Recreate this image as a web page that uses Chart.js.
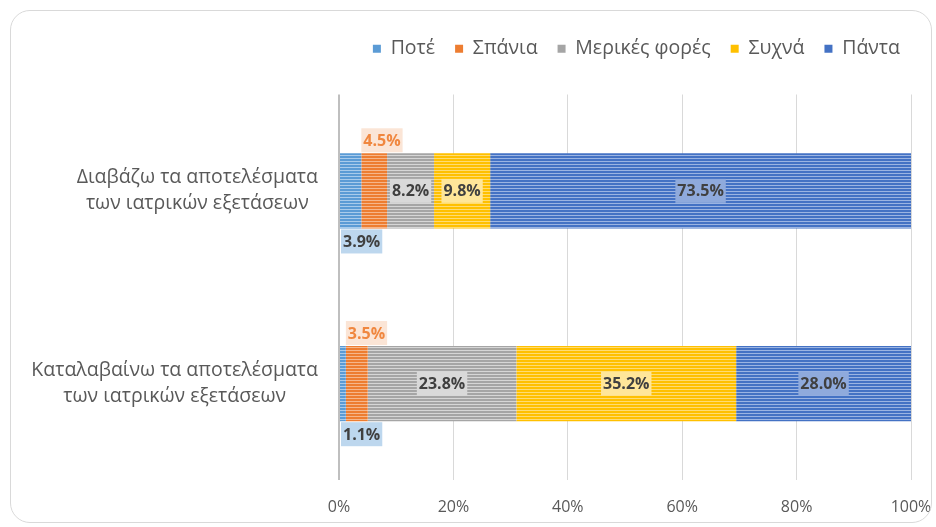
<!DOCTYPE html>
<html>
<head>
<meta charset="utf-8">
<script src="https://cdn.jsdelivr.net/npm/chart.js@4/dist/chart.umd.min.js"></script>
<style>
html, body { margin: 0; padding: 0; background: #fff; }
#wrap { position: relative; width: 936px; height: 527px; }
#frame { position: absolute; left: 10px; top: 10px; width: 920px; height: 511px; border: 1.5px solid #d9d9d9; border-radius: 20px; pointer-events: none; }
canvas { position: absolute; left: 0; top: 0; }
</style>
</head>
<body>
<div id="wrap"><canvas id="chart" width="936" height="527"></canvas><div id="frame"></div></div>
<script>
// categories (two-line labels) and series values in %, as printed on the bars
const categories = [
    ["Διαβάζω τα αποτελέσματα", "των ιατρικών εξετάσεων"],
    ["Καταλαβαίνω τα αποτελέσματα", "των ιατρικών εξετάσεων"]
];
const seriesNames = ["Ποτέ", "Σπάνια", "Μερικές φορές", "Συχνά", "Πάντα"];
const never = [3.9, 1.1];
const rarely = [4.5, 3.5];
const sometimes = [8.2, 23.8];
const often = [9.8, 35.2];
const always = [73.5, 28.0];
const xTicks = [0, 20, 40, 60, 80, 100];

const colors = ["#5B9BD5", "#ED7D31", "#A5A5A5", "#FFC000", "#4472C4"];
const stripeColors = ["#a9cbeb", "#f6b68a", "#d6d6d6", "#ffdc73", "#9bb4e2"];
const labelBg = ["#bdd7ee", "#fbe5d6", "#d9d9d9", "#ffe699", "#8faadc"];
const FONT = "'Open Sans', 'Noto Sans', sans-serif";

const rawSeries = [never, rarely, sometimes, often, always];
// 100% stacked: each bar is scaled to its own total, labels keep the raw value
const totals = categories.map((c, i) => rawSeries.reduce((s, arr) => s + arr[i], 0));

function stripes(base, light) {
    const c = document.createElement("canvas");
    c.width = 4; c.height = 3;
    const g = c.getContext("2d");
    g.fillStyle = base; g.fillRect(0, 0, 4, 3);
    g.fillStyle = light; g.fillRect(0, 2, 4, 1);
    return g.createPattern(c, "repeat");
}

const datasets = rawSeries.map((arr, k) => ({
    label: seriesNames[k],
    data: arr.map((v, i) => v / totals[i] * 100),
    raw: arr,
    backgroundColor: stripes(colors[k], stripeColors[k]),
    borderWidth: 0,
    barPercentage: 0.39,
    categoryPercentage: 1
}));

const legendGap = {
    id: "legendGap",
    beforeInit(chart) {
        const fit = chart.legend.fit;
        chart.legend.fit = function () { fit.bind(chart.legend)(); this.height += 26; };
    }
};

const catLabels = {
    id: "catLabels",
    afterDraw(chart) {
        const ctx = chart.ctx, y = chart.scales.y;
        ctx.save();
        ctx.font = "19.5px " + FONT;
        ctx.fillStyle = "#595959";
        ctx.textAlign = "center";
        ctx.textBaseline = "middle";
        categories.forEach((lines, i) => {
            const yc = y.getPixelForValue(i);
            const w = Math.max(...lines.map(l => ctx.measureText(l).width));
            const cx = chart.chartArea.left - 21 - w / 2;
            lines.forEach((l, j) => ctx.fillText(l, cx, yc + (j - (lines.length - 1) / 2) * 26));
        });
        ctx.restore();
    }
};

const barLabels = {
    id: "barLabels",
    afterDatasetsDraw(chart) {
        const ctx = chart.ctx;
        ctx.save();
        ctx.font = "bold 16px " + FONT;
        ctx.textBaseline = "middle";
        chart.data.datasets.forEach((ds, k) => {
            chart.getDatasetMeta(k).data.forEach((el, i) => {
                const txt = ds.raw[i].toFixed(1) + "%";
                const tw = ctx.measureText(txt).width;
                const bw = tw + 4, bh = 24;
                let bx, cy;
                if (k === 0) { bx = el.base + 1; cy = el.y + el.height / 2 + bh / 2 + 1; }
                else if (k === 1) { bx = el.base; cy = el.y - el.height / 2 - bh / 2 - 1; }
                else { bx = (el.base + el.x) / 2 - bw / 2; cy = el.y; }
                ctx.fillStyle = labelBg[k];
                ctx.fillRect(bx, cy - bh / 2, bw, bh);
                ctx.fillStyle = k === 1 ? "#f0873f" : "#404040";
                ctx.textAlign = "left";
                ctx.fillText(txt, bx + 2, cy + 1);
            });
        });
        ctx.restore();
    }
};

new Chart(document.getElementById("chart"), {
    type: "bar",
    data: { labels: categories, datasets },
    options: {
        indexAxis: "y",
        responsive: false,
        animation: false,
        layout: { padding: { left: 10, right: 16, top: 19, bottom: 0 } },
        scales: {
            x: {
                stacked: true, min: 0, max: 100,
                afterBuildTicks: s => { s.ticks = xTicks.map(v => ({ value: v })); },
                afterFit: s => { s.height = 47; s.paddingRight = 25; s.paddingLeft = 0; },
                ticks: { callback: v => v + "%", color: "#595959", font: { size: 16, family: FONT }, padding: 18 },
                grid: {
                    drawTicks: false,
                    color: c => c.tick && c.tick.value === 0 ? "#bfbfbf" : "#d9d9d9",
                    lineWidth: c => c.tick && c.tick.value === 0 ? 2 : 1
                },
                border: { display: false }
            },
            y: {
                stacked: true,
                ticks: { display: false },
                grid: { display: false },
                border: { display: false },
                afterFit: s => { s.width = 329; }
            }
        },
        plugins: {
            legend: {
                position: "top", align: "end",
                labels: {
                    boxWidth: 8, boxHeight: 8, padding: 20, color: "#595959",
                    font: { size: 19.5, family: FONT },
                    generateLabels: chart => Chart.defaults.plugins.legend.labels.generateLabels(chart)
                        .map((l, k) => Object.assign(l, { fillStyle: colors[k], strokeStyle: colors[k], lineWidth: 0 }))
                }
            },
            tooltip: { enabled: false }
        }
    },
    plugins: [legendGap, catLabels, barLabels]
});
</script>
</body>
</html>
